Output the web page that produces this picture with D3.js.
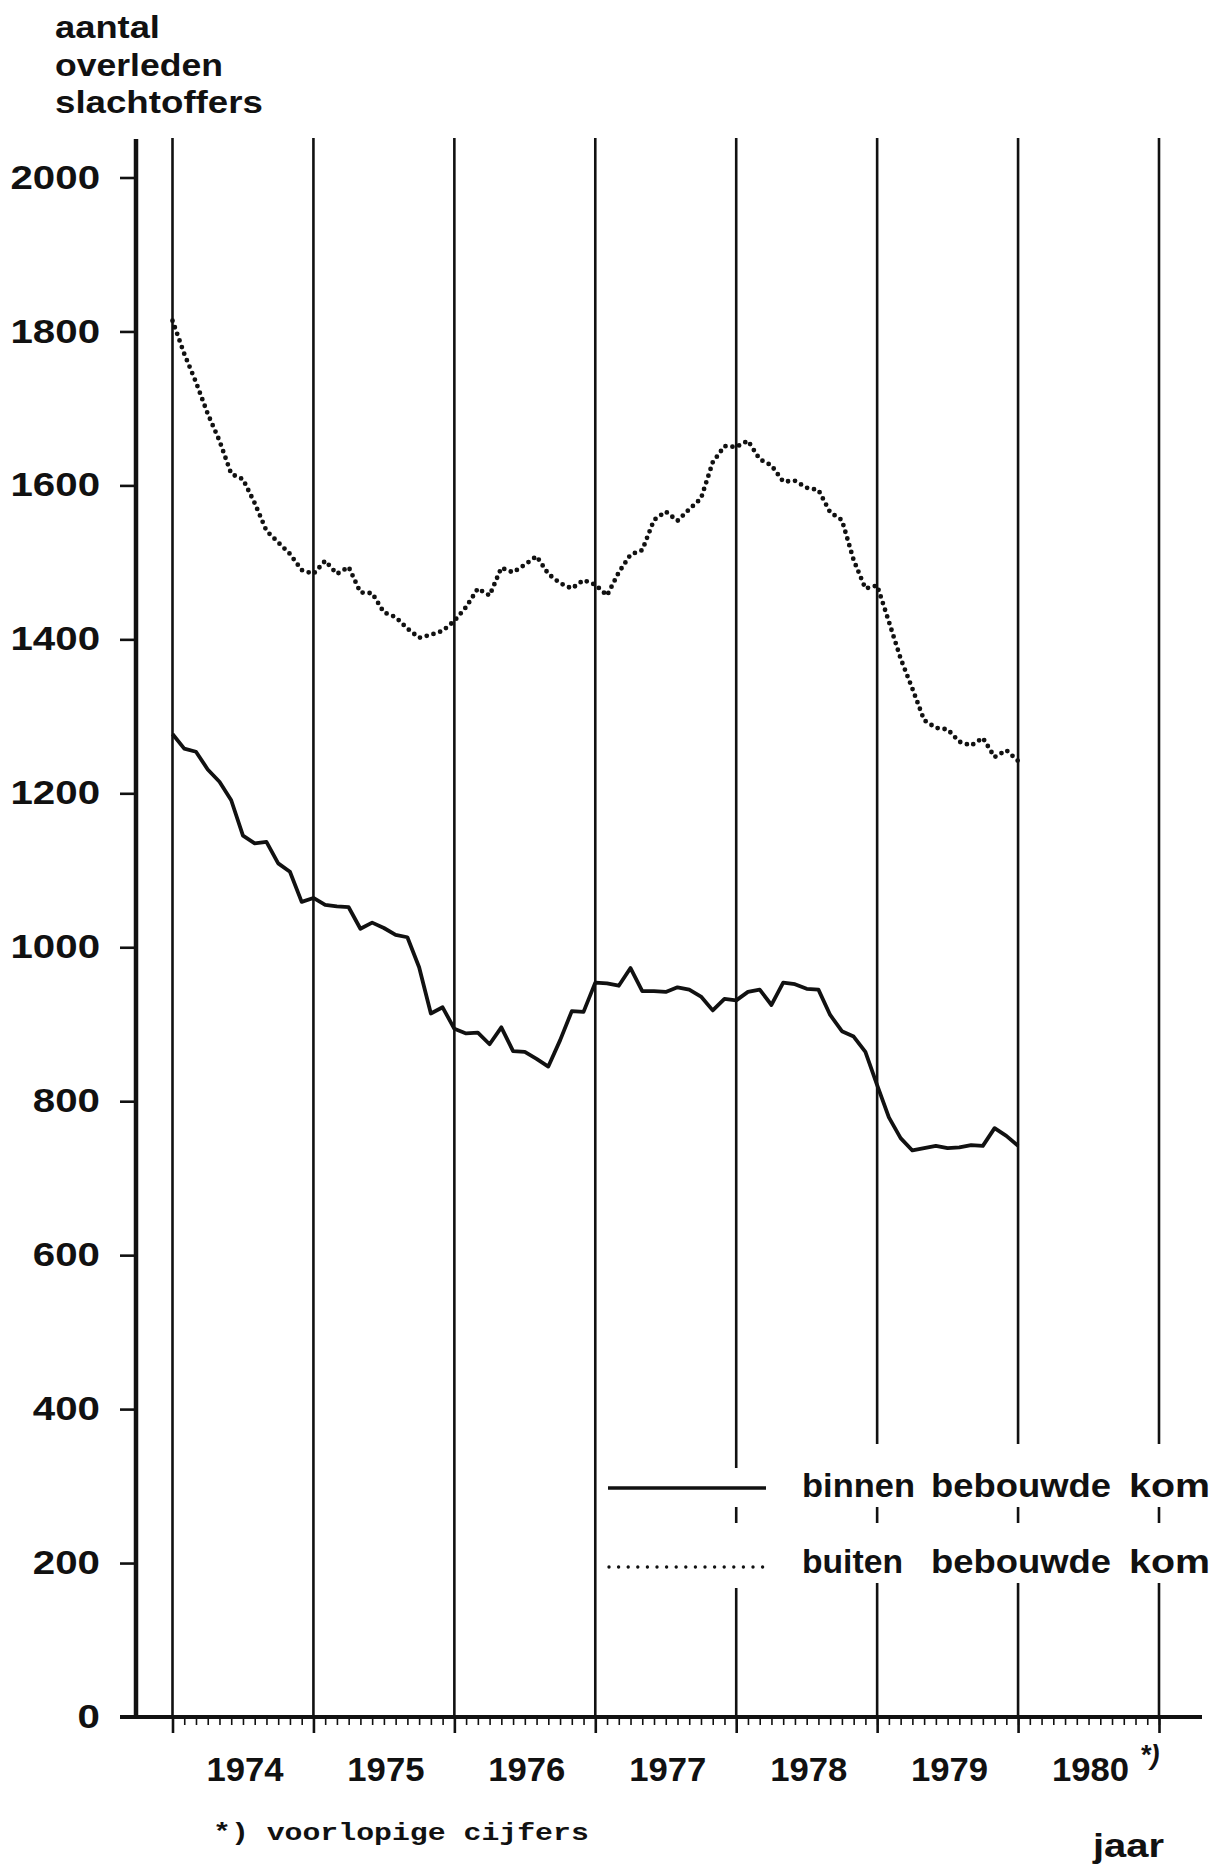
<!DOCTYPE html>
<html><head><meta charset="utf-8">
<script src="https://cdn.jsdelivr.net/npm/d3@7"></script>
<style>body{margin:0;background:#fff} svg{display:block}</style>
</head><body>
<script>
// ---- data ----
const years = [1974, 1975, 1976, 1977, 1978, 1979, 1980];
const yTicks = [0, 200, 400, 600, 800, 1000, 1200, 1400, 1600, 1800, 2000];
// monthly moving totals, Jan 1974 .. Jan 1980 (73 points)
const binnen = [1277,1258,1254,1231,1215,1191,1145,1135,1137,1109,1098,1059,
  1064,1055,1053,1052,1024,1032,1025,1016,1013,974,914,922,
  894,888,889,874,896,865,864,855,845,879,917,916,
  954,953,950,973,943,943,942,948,945,936,918,933,
  931,942,945,925,954,952,946,945,912,891,884,864,
  821,779,752,736,739,742,739,740,743,742,765,755,742];
const buiten = [1814,1771,1734,1693,1658,1615,1608,1577,1541,1526,1511,1490,
  1485,1502,1485,1494,1461,1460,1435,1429,1414,1402,1406,1411,
  1424,1442,1466,1457,1493,1487,1497,1508,1485,1473,1466,1477,
  1471,1457,1487,1510,1516,1555,1566,1554,1569,1583,1630,1651,
  1650,1658,1634,1626,1605,1606,1597,1594,1565,1555,1503,1466,
  1470,1423,1375,1336,1295,1285,1283,1267,1262,1272,1247,1256,1242];
const titleLines = ["aantal", "overleden", "slachtoffers"];
const legendRows = [["binnen", "bebouwde", "kom"], ["buiten", "bebouwde", "kom"]];
const xTitle = "jaar";
const footnote = "*) voorlopige cijfers";
const provisionalMark = "*)";

// ---- layout ----
const W = 1215, H = 1864;
const FONT = "'Liberation Sans', Arial, Helvetica, sans-serif";
const svg = d3.select("body").append("svg").attr("width", W).attr("height", H);
svg.append("rect").attr("width", W).attr("height", H).attr("fill", "#fff");

const x = d3.scaleLinear().domain([1974, 1981]).range([172.5, 1159]);
const y = d3.scaleLinear().domain([0, 2000]).range([1717, 177.5]);
const axisX = 136, topY = 138;

function fitText(str, px, py, o) {
  const t = svg.append("text").text(str)
    .attr("font-family", o.family || FONT)
    .attr("font-size", o.size)
    .attr("font-weight", o.weight || "bold")
    .attr("font-style", o.style || "normal")
    .attr("fill", "#111");
  if (o.spacing) t.attr("letter-spacing", o.spacing);
  const w = t.node().getComputedTextLength();
  const sx = o.width ? o.width / w : (o.sx || 1);
  let ax = px;
  const anchor = o.anchor || "start";
  if (anchor === "end") ax = px - w * sx;
  if (anchor === "middle") ax = px - w * sx / 2;
  t.attr("transform", `translate(${ax},${py}) scale(${sx},1)`);
  return t;
}

// ---- year boundary lines ----
const bounds = years.concat([1981]);
const gapInfo = {1978: [1468, 1588], 1979: [1444, 1583], 1980: [1444, 1583], 1981: [1444, 1583]};
const vg = svg.append("g").attr("stroke", "#111").attr("stroke-width", 2.6);
bounds.forEach(b => {
  const xx = x(b);
  if (gapInfo[b]) {
    const [g1, g2] = gapInfo[b];
    vg.append("line").attr("x1", xx).attr("x2", xx).attr("y1", topY).attr("y2", g1);
    vg.append("line").attr("x1", xx).attr("x2", xx).attr("y1", 1507).attr("y2", 1523);
    vg.append("line").attr("x1", xx).attr("x2", xx).attr("y1", g2).attr("y2", y(0));
  } else {
    vg.append("line").attr("x1", xx).attr("x2", xx).attr("y1", topY).attr("y2", y(0));
  }
});

// ---- y axis ----
const yAxis = svg.append("g").attr("transform", `translate(${axisX},0)`)
  .call(d3.axisLeft(y).tickValues(yTicks).tickSize(16).tickFormat(d3.format("d")));
yAxis.select(".domain").remove();
yAxis.selectAll(".tick line").attr("stroke", "#111").attr("stroke-width", 2.6);
yAxis.selectAll(".tick text")
  .attr("font-family", FONT).attr("font-size", 33).attr("font-weight", "bold")
  .attr("fill", "#111").attr("x", -36 / 1.22).attr("dy", "0.32em")
  .attr("transform", "scale(1.22,1)");
svg.append("line").attr("x1", axisX).attr("x2", axisX).attr("y1", topY + 1).attr("y2", y(0))
  .attr("stroke", "#111").attr("stroke-width", 4.5);

// ---- x axis ----
const months = d3.range(0, 7 * 12 + 1).map(i => 1974 + i / 12);
const minor = svg.append("g").attr("transform", `translate(0,${y(0)})`)
  .call(d3.axisBottom(x).tickValues(months).tickSize(8).tickFormat(""));
minor.select(".domain").remove();
minor.selectAll(".tick line").attr("stroke", "#111").attr("stroke-width", 1.6);
const major = svg.append("g").attr("transform", `translate(0,${y(0)})`)
  .call(d3.axisBottom(x).tickValues(bounds).tickSize(16).tickFormat(""));
major.select(".domain").remove();
major.selectAll(".tick line").attr("stroke", "#111").attr("stroke-width", 2.6);
svg.append("line").attr("x1", 120).attr("x2", 1202).attr("y1", y(0)).attr("y2", y(0))
  .attr("stroke", "#111").attr("stroke-width", 4);

years.forEach(yr => {
  fitText(String(yr), x(yr + 0.5) + 2, 1781, {size: 33, sx: 1.05, anchor: "middle"});
});
fitText(provisionalMark, 1140, 1764, {size: 27, style: "italic", sx: 1.0});
fitText(xTitle, 1164, 1857, {size: 33, width: 71, anchor: "end"});
fitText(footnote, 213, 1840, {size: 23, family: "'Liberation Mono', 'DejaVu Sans Mono', monospace", width: 376});

// ---- title ----
const tW = [105, 168, 208], tY = [38, 76, 113];
titleLines.forEach((s, i) => fitText(s, 55, tY[i], {size: 32, width: tW[i]}));

// ---- series ----
const line = d3.line().x((d, i) => x(1974 + i / 12)).y(d => y(d));
svg.append("path").datum(buiten).attr("d", line).attr("fill", "none")
  .attr("stroke", "#111").attr("stroke-width", 4.8).attr("stroke-linecap", "round")
  .attr("stroke-dasharray", "0 7");
svg.append("path").datum(binnen).attr("d", line).attr("fill", "none")
  .attr("stroke", "#111").attr("stroke-width", 3.8).attr("stroke-linejoin", "round");

// ---- legend ----
svg.append("line").attr("x1", 608).attr("x2", 766).attr("y1", 1488).attr("y2", 1488)
  .attr("stroke", "#111").attr("stroke-width", 3.4);
svg.append("line").attr("x1", 609).attr("x2", 764).attr("y1", 1567).attr("y2", 1567)
  .attr("stroke", "#111").attr("stroke-width", 3.4).attr("stroke-linecap", "round")
  .attr("stroke-dasharray", "0 9.6");
const wordX = [802, 931, 1129];
const wordW = [[113, 180, 81], [101, 180, 81]];
const rowY = [1497, 1573];
legendRows.forEach((row, r) => row.forEach((w, i) =>
  fitText(w, wordX[i], rowY[r], {size: 33, width: wordW[r][i]})));
</script>
</body></html>
